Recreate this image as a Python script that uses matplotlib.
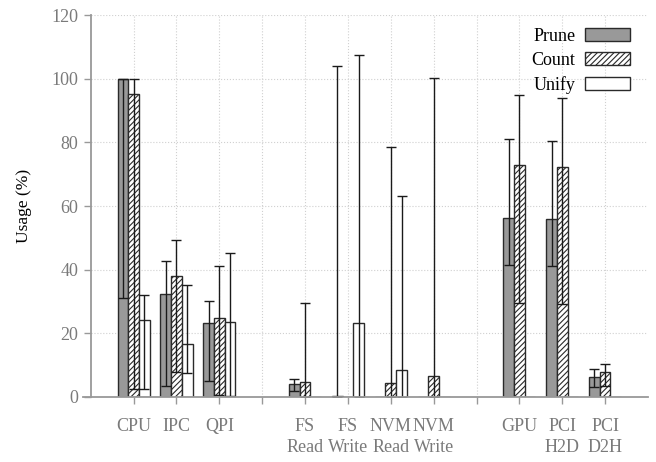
import numpy as np
import matplotlib
matplotlib.use("Agg")
import matplotlib.pyplot as plt
from matplotlib.patches import Patch

plt.rcParams['font.family'] = ['Liberation Serif', 'DejaVu Serif']
plt.rcParams['hatch.linewidth'] = 0.8

# ---- data ----
positions = [0, 1, 2, 4, 5, 6, 7, 9, 10, 11]
labels = ["CPU", "IPC", "QPI", "FS\nRead", "FS\nWrite", "NVM\nRead",
          "NVM\nWrite", "GPU", "PCI\nH2D", "PCI\nD2H"]
series = ["Prune", "Count", "Unify"]

prune_mean = [100, 32.5, 23.4, 4.1, 0.3, 0, 0, 56.3, 55.8, 6.2]
prune_min = [31.1, 3.4, 5.1, 2.0, 0, None, None, 41.6, 41.0, 3.0]
prune_max = [100, 42.8, 30.2, 5.7, 103.9, None, None, 81.1, 80.3, 8.9]

count_mean = [95.2, 37.9, 24.9, 4.6, 0, 4.3, 6.7, 72.9, 72.3, 8.0]
count_min = [2.4, 7.7, 0.5, 0, None, 0, 0, 29.6, 29.3, 3.4]
count_max = [100, 49.2, 41.1, 29.4, None, 78.5, 100.1, 94.9, 94.0, 10.4]

unify_mean = [24.3, 16.5, 23.7, 0, 23.1, 8.4, 0, 0, 0, 0]
unify_min = [2.4, 7.4, 0.3, None, 0, 0, None, None, None, None]
unify_max = [32.1, 35.2, 45.2, None, 107.5, 63.0, None, None, None, None]

yticks = [0, 20, 40, 60, 80, 100, 120]

# ---- figure ----
fig = plt.figure(figsize=(6.56, 4.62), dpi=100)
ax = fig.add_axes([0.1383, 0.1407, 0.9878 - 0.1383, 0.9675 - 0.1407])

width = 0.25
offsets = [-0.25, 0.0, 0.25]
styles = [
    dict(facecolor="#999999", hatch=None),
    dict(facecolor="white", hatch="//////"),
    dict(facecolor="white", hatch=None),
]
means = [prune_mean, count_mean, unify_mean]
mins = [prune_min, count_min, unify_min]
maxs = [prune_max, count_max, unify_max]
edge = "#2a2a2a"

handles = []
for i, name in enumerate(series):
    x = np.array(positions) + offsets[i]
    ax.bar(x, means[i], width=width, color=styles[i]["facecolor"],
           hatch=styles[i]["hatch"], edgecolor=edge, linewidth=1.0, zorder=3)
    ex, ey, lo, hi = [], [], [], []
    for xx, m, mn, mx in zip(x, means[i], mins[i], maxs[i]):
        if mn is None:
            continue
        ex.append(xx); ey.append(m); lo.append(m - mn); hi.append(mx - m)
    ax.errorbar(ex, ey, yerr=[lo, hi], fmt="none", ecolor="#1a1a1a",
                elinewidth=1.0, capsize=3.9, capthick=1.0, zorder=4)
    handles.append(Patch(facecolor=styles[i]["facecolor"], hatch=styles[i]["hatch"],
                         edgecolor=edge, linewidth=1.0, label=name))

ax.set_xlim(-1, 12)
ax.set_ylim(0, 120)
ax.set_xticks(range(12))
lab_map = dict(zip(positions, labels))
ax.set_xticklabels([lab_map.get(k, "") for k in range(12)], linespacing=1.35)
ax.set_yticks(yticks)

axis_gray = "#999999"
for s in ["top", "right", "bottom"]:
    ax.spines[s].set_visible(False)
ax.spines["left"].set_color(axis_gray)
ax.spines["left"].set_linewidth(1.3)
ax.plot([-0.013, 1.0], [0, 0], transform=ax.transAxes, color=axis_gray,
        lw=1.3, clip_on=False, zorder=5)

ax.tick_params(axis="both", colors=axis_gray, labelcolor="#7a7a7a",
               labelsize=13, width=1.0)
ax.tick_params(axis="y", length=5, pad=4)
ax.tick_params(axis="x", length=5, pad=10)

ax.grid(True, color="#d0d0d0", linestyle=":", linewidth=0.8, zorder=0)
ax.set_axisbelow(True)

ax.set_ylabel("Usage (%)", fontsize=12.5, color="black", labelpad=14)

leg = ax.legend(handles=handles, loc="upper right", frameon=False,
                markerfirst=False, fontsize=13, handlelength=2.5,
                handleheight=0.7, labelspacing=0.4, handletextpad=0.5,
                bbox_to_anchor=(0.99, 1.0), borderaxespad=0.3)

fig.savefig("out.png", dpi=100)
